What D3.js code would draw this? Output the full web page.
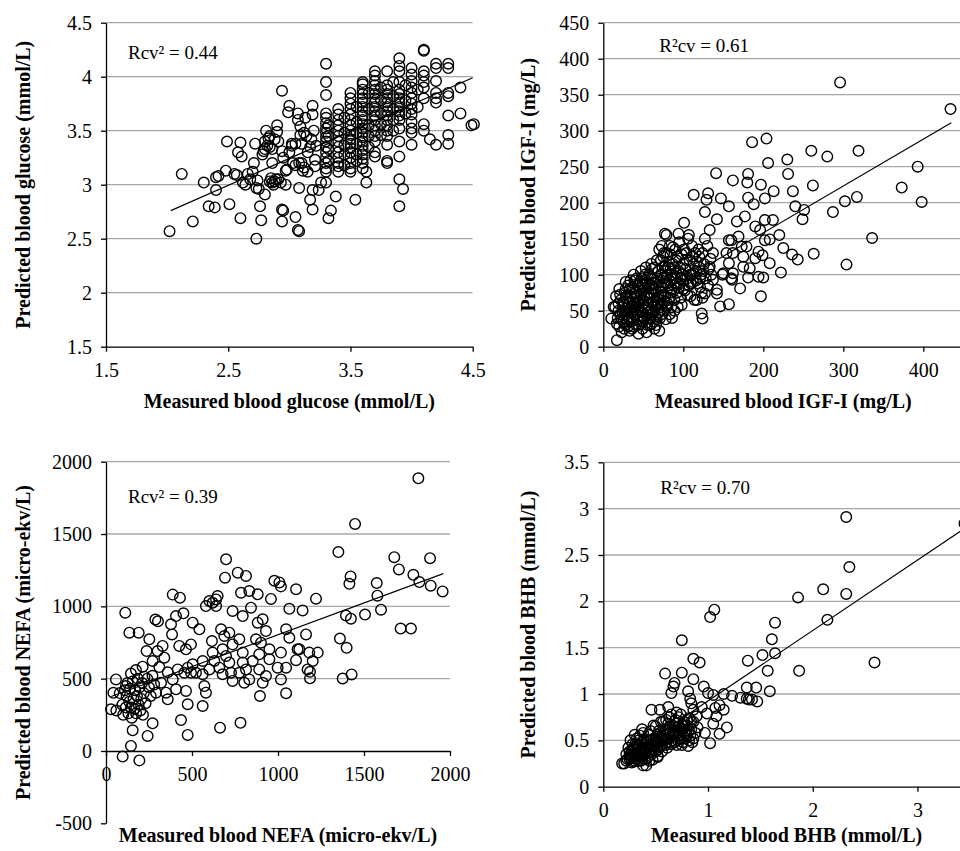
<!DOCTYPE html>
<html>
<head>
<meta charset="utf-8">
<script src="https://cdn.jsdelivr.net/npm/d3@7"></script>
<style>
  body { margin: 0; background: #fff; }
  svg { display: block; font-family: "Liberation Serif", "Times New Roman", serif; }
  .grid line { stroke: #a8a8a8; stroke-width: 1.3; }
  .axis path, .axis line { stroke: #000; stroke-width: 1.3; }
  .axis text { font-family: "Liberation Serif", "Times New Roman", serif; font-size: 20px; fill: #000; }
  .dot { fill: none; stroke: #000; stroke-width: 1.4; }
  .fit-line { fill: none; stroke: #000; stroke-width: 1.2; }
  .axis-title { font-size: 20px; font-weight: bold; fill: #000; }
  .note { font-size: 19px; fill: #000; }
</style>
</head>
<body>
<svg id="chart"></svg>
<script>
// ---- glucose (mmol/L): [measured, predicted]
const glucosePoints = [
  [2.02,2.57],[2.12,3.10],[2.21,2.66],[2.30,3.02],[2.34,2.80],[2.39,2.79],[2.40,2.95],[2.40,3.07],[2.42,3.08],[2.48,3.13],
  [2.49,3.40],[2.51,2.82],[2.57,3.09],[2.58,3.30],[2.60,2.69],[2.60,3.39],[2.61,3.26],[2.62,3.02],[2.66,3.10],[2.71,3.20],
  [2.72,3.38],[2.73,2.50],[2.73,2.97],[2.74,3.04],[2.76,2.80],[2.77,2.67],[2.80,2.91],[2.79,3.31],[2.81,3.50],[2.83,3.43],
  [2.84,3.35],[2.85,3.06],[2.86,3.20],[2.88,3.03],[2.90,3.49],[2.90,3.55],[2.91,3.40],[2.93,3.02],[2.94,3.87],[2.94,3.31],
  [2.94,2.77],[2.94,2.66],[2.95,2.76],[2.97,3.00],[2.98,3.14],[3.00,3.73],[2.99,3.67],[3.02,3.38],[3.03,3.20],[3.05,3.38],
  [3.05,2.70],[3.07,2.58],[3.08,2.57],[3.08,2.97],[3.07,3.66],[3.07,3.60],[3.09,3.54],[3.09,3.46],[3.10,3.38],[3.10,3.20],
  [3.11,3.13],[3.13,3.62],[3.17,3.35],[3.17,2.86],[3.19,2.95],[3.19,2.77],[3.19,3.73],[3.19,3.65],[3.21,3.23],[3.21,3.17],
  [3.24,2.95],[3.26,3.02],[2.80,3.40],[2.82,3.36],[2.84,3.45],[2.86,3.33],[2.88,3.42],[2.80,3.33],[2.78,3.28],[2.84,3.03],
  [2.86,3.02],[2.89,3.05],[2.87,3.00],[2.91,3.05],[2.68,3.05],[2.70,3.12],[2.55,3.10],[2.64,3.00],[2.75,2.96],[2.95,3.25],
  [3.00,3.30],[3.02,3.36],[2.97,3.13],[3.12,3.48],[3.14,3.45],[3.15,3.30],[3.18,3.42],[3.20,3.50],[3.22,3.36],[3.05,3.18],
  [3.08,3.20],[3.12,3.16],[3.15,3.12],
  [3.3,4.12],[3.3,3.95],[3.3,3.83],[3.3,3.66],[3.3,3.62],[3.3,3.57],[3.3,3.52],[3.3,3.48],[3.3,3.44],[3.3,3.40],
  [3.3,3.35],[3.3,3.30],[3.3,3.25],[3.3,3.20],[3.3,3.15],[3.3,3.12],[3.3,3.02],[3.32,2.69],[3.32,3.55],[3.32,3.45],
  [3.32,3.33],[3.32,3.22],
  [3.4,3.70],[3.4,3.65],[3.4,3.60],[3.4,3.55],[3.4,3.50],[3.4,3.45],[3.4,3.40],[3.4,3.35],[3.4,3.30],[3.4,3.25],
  [3.4,3.20],[3.4,3.17],[3.4,3.12],[3.38,2.89],[3.34,2.76],[3.45,3.62],[3.45,3.48],[3.45,3.36],[3.45,3.28],[3.45,3.18],
  [3.5,3.85],[3.5,3.80],[3.5,3.75],[3.5,3.70],[3.5,3.65],[3.5,3.60],[3.5,3.55],[3.5,3.50],[3.5,3.46],[3.5,3.42],
  [3.5,3.38],[3.5,3.34],[3.5,3.30],[3.5,3.25],[3.5,3.20],[3.5,3.15],[3.5,3.12],[3.54,2.86],
  [3.55,3.72],[3.55,3.58],[3.55,3.48],[3.55,3.38],[3.55,3.28],[3.55,3.22],
  [3.6,3.95],[3.6,3.93],[3.6,3.88],[3.6,3.84],[3.6,3.80],[3.6,3.76],[3.6,3.72],[3.6,3.68],[3.6,3.64],[3.6,3.60],
  [3.6,3.56],[3.6,3.52],[3.6,3.48],[3.6,3.44],[3.6,3.40],[3.6,3.36],[3.6,3.32],[3.6,3.28],[3.6,3.24],[3.6,3.20],
  [3.6,3.15],[3.63,3.02],[3.63,3.12],
  [3.65,3.85],[3.65,3.70],[3.65,3.55],[3.65,3.45],[3.65,3.35],
  [3.7,4.05],[3.7,4.01],[3.7,3.96],[3.7,3.92],[3.7,3.88],[3.7,3.84],[3.7,3.80],[3.7,3.76],[3.7,3.72],[3.7,3.68],
  [3.7,3.64],[3.7,3.60],[3.7,3.55],[3.7,3.50],[3.7,3.45],[3.7,3.40],[3.7,3.30],[3.7,3.26],
  [3.75,3.90],[3.75,3.78],[3.75,3.66],[3.75,3.56],[3.75,3.46],
  [3.8,4.05],[3.8,3.92],[3.8,3.88],[3.8,3.84],[3.8,3.80],[3.8,3.76],[3.8,3.72],[3.8,3.68],[3.8,3.64],[3.8,3.60],
  [3.8,3.55],[3.8,3.50],[3.8,3.45],[3.8,3.37],[3.8,3.22],[3.8,3.20],
  [3.85,3.95],[3.85,3.82],[3.85,3.70],[3.85,3.60],[3.85,3.50],
  [3.9,4.17],[3.9,4.10],[3.9,4.05],[3.9,3.95],[3.9,3.88],[3.9,3.84],[3.9,3.80],[3.9,3.76],[3.9,3.72],[3.9,3.68],
  [3.9,3.64],[3.9,3.60],[3.9,3.52],[3.9,3.40],[3.9,3.26],[3.9,3.05],[3.9,2.80],[3.93,2.96],
  [3.95,3.92],[3.95,3.78],[3.95,3.66],
  [4.0,4.08],[4.0,4.02],[4.0,3.96],[4.0,3.90],[4.0,3.85],[4.0,3.80],[4.0,3.75],[4.0,3.70],[4.0,3.65],[4.0,3.58],
  [4.0,3.52],[4.0,3.48],[4.0,3.37],[4.05,3.88],[4.05,3.72],
  [4.1,4.25],[4.1,4.24],[4.1,4.05],[4.1,4.01],[4.1,3.95],[4.1,3.90],[4.1,3.80],[4.1,3.56],[4.1,3.50],[4.15,3.42],
  [4.2,4.12],[4.2,4.08],[4.2,3.96],[4.2,3.85],[4.2,3.80],[4.2,3.76],[4.2,3.37],
  [4.3,4.12],[4.3,4.08],[4.3,3.85],[4.3,3.82],[4.3,3.64],[4.3,3.46],[4.3,3.38],
  [4.4,3.90],[4.4,3.66],[4.49,3.55],[4.51,3.56]
];
const glucoseFit = [[2.03, 2.76], [4.5, 3.99]];
const glucoseTicksX = [1.5, 2.5, 3.5, 4.5];
const glucoseTicksY = [1.5, 2, 2.5, 3, 3.5, 4, 4.5];

// ---- IGF-I (mg/L): [measured, predicted]
const igfPoints = [
  [296,367],[434,330],[204,289],[186,284],[260,272],[319,272],[280,264],[230,260],[393,250],[206,255],
  [141,241],[231,240],[181,240],[162,231],[180,228],[197,225],[262,224],[213,216],[237,216],[147,206],
  [113,211],[131,213],[129,204],[181,207],[202,206],[302,202],[317,208],[373,221],[398,201],[240,195],
  [251,190],[287,187],[157,195],[188,198],[127,187],[249,177],[212,176],[167,174],[142,177],[202,176],
  [133,162],[101,172],[77,157],[94,157],[107,155],[336,151],[220,155],[208,149],[225,137],[263,129],
  [236,128],[243,121],[304,114],[208,116],[222,103],[197,70],[171,81],[146,56],[157,59],[124,39],
  [123,46],[17,9],[10,39],[13,55],
  [194,97],[200,96],[181,96],[183,109],[194,132],[190,123],[199,127],[175,125],[173,139],[162,130],
  [157,148],[149,100],[161,93],[157,116],[142,79],[137,130],
  [177,181],[190,167],[196,162],[202,148],[160,95],[162,102],[175,111],[179,139],[169,153],[160,148],
  [154,130],[150,102],[142,74],[137,93],[133,111],[127,74],[121,83],[117,65],
  [15,55],[18,40],[20,28],[22,65],[24,48],[16,70],[25,35],[20,80],[23,20],[26,58],[21,45],[19,60],
  [27,75],[28,30],[29,50],[30,62],[31,85],[32,40],[33,22],[34,70],[35,55],[28,90],[30,45],[33,80],[35,35],[26,25],
  [36,48],[37,65],[38,28],[39,92],[40,55],[41,75],[42,38],[43,85],[44,18],[45,62],[38,100],[40,45],[42,70],[44,30],
  [36,82],[41,58],
  [46,50],[47,72],[48,95],[49,25],[50,60],[51,40],[52,82],[53,110],[54,20],[55,68],[46,88],[48,35],[50,78],[52,55],
  [54,45],[47,105],[53,92],[49,65],
  [56,58],[57,100],[58,30],[59,75],[60,115],[61,45],[62,88],[63,62],[64,25],[65,80],[56,40],[58,68],[60,52],[62,95],
  [64,72],[57,85],[61,108],[63,35],
  [66,55],[67,120],[68,90],[69,70],[70,135],[71,40],[72,100],[73,60],[74,82],[75,125],[66,30],[68,48],[70,22],[72,75],
  [74,110],[67,95],[71,65],[73,140],[75,50],
  [76,95],[77,70],[78,105],[79,155],[80,60],[81,85],[82,118],[83,45],[84,75],[85,100],[76,130],[78,38],[80,88],[82,65],
  [84,128],[77,112],[83,92],[85,55],
  [86,80],[87,138],[88,110],[89,65],[90,95],[91,120],[92,75],[93,55],[94,105],[95,145],[96,88],[97,68],[98,128],[99,100],
  [100,115],[86,40],[90,135],[94,82],[98,58],[100,92],
  [102,78],[103,108],[104,130],[105,95],[106,150],[107,85],[108,120],[109,70],[110,100],[111,140],[112,90],[113,115],
  [114,65],[115,130],
  [116,105],[118,88],[120,125],[122,100],[124,68],[126,115],[128,95],[130,140],[132,108],[134,122],[119,135],[123,75],
  [127,150],[131,85],[135,100],
  [17,32],[19,50],[21,72],[23,38],[25,62],[27,45],[29,68],[31,28],[33,52],[35,75],[37,40],[39,60],[41,30],[43,50],
  [45,78],[47,42],[49,88],[24,55],[28,80],[32,60],[36,25],[40,68],[44,55],[48,48],[30,38],[34,92],[38,45],[42,95],
  [46,65],[50,35],
  [51,70],[53,50],[55,88],[57,48],[59,95],[61,60],[63,80],[65,42],[67,68],[69,105],[71,85],[73,45],[75,72],[77,90],
  [79,55],[81,110],[83,68],[85,80],[87,95],[89,50],[52,100],[56,75],[60,85],[64,110],[68,58],[72,120],[76,62],[80,100],
  [84,108],[88,85],[55,30],[59,40],[63,48],[67,38],[71,55],[75,95],[79,130],[83,140],[87,115],[91,102],
  [92,88],[96,110],[100,80],[104,120],[108,100],[112,125],[116,92],[120,110],[124,130],[93,125],[97,95],[101,135],
  [105,72],[109,88],[113,102],[117,118],[121,95],[125,105]
];
const igfFit = [[10, 34.6], [435, 311]];
const igfTicksX = [0, 100, 200, 300, 400];
const igfTicksY = [0, 50, 100, 150, 200, 250, 300, 350, 400, 450];

// ---- NEFA (micro-ekv/L): [measured, predicted]
const nefaPoints = [
  [112,956],[97,-39],[194,-65],[145,35],[242,104],[271,191],[475,111],[436,214],[663,161],[155,143],
  [58,495],[29,288],[116,449],[136,818],[190,818],[145,535],[174,560],[213,583],[223,514],[252,772],
  [236,691],[271,622],[287,909],[302,897],[300,691],[329,726],[339,645],[310,580],[320,472],[291,403],
  [359,544],[349,403],[359,357],[388,1081],[430,1060],[378,876],[384,806],[407,933],[450,952],[426,726],
  [465,703],[494,737],[504,887],[543,841],[417,564],[455,541],[475,576],[388,495],[407,426],[465,415],
  [475,323],[494,541],[523,541],[562,530],[504,599],[562,622],[601,564],[572,449],[581,403],[562,311],
  [581,1002],[601,1037],[620,1025],[640,1048],[649,1071],[640,1002],[616,760],[669,841],[688,795],[630,622],
  [659,576],[620,680],[678,703],[678,530],[698,657],[698,1325],[692,1198],[717,818],[736,737],[717,611],
  [727,541],[736,484],[766,1233],[814,1210],[785,1094],[833,1106],[736,968],[795,933],[775,772],[795,680],
  [795,611],[775,541],[814,564],[833,495],[804,472],[882,1083],[843,991],[882,887],[911,910],[930,829],
  [872,772],[901,749],[891,668],[853,622],[891,564],[950,703],[950,634],[930,518],[911,472],[895,380],
  [959,1051],[979,1177],[1008,1165],[1017,1138],[1066,983],[1143,972],[1047,841],[1066,783],[1017,680],[998,576],
  [1047,576],[1017,495],[1047,399],[1105,1118],[1114,703],[1124,703],[1163,806],[1182,680],[1172,564],[1186,502],
  [1202,622],[1231,680],[1221,1053],[1105,628],[1186,547],[782,195],[43,402],
  [1816,1885],[1448,1570],[1351,1375],[1676,1340],[1884,1333],[1703,1255],[1787,1218],[1422,1207],[1415,1156],[1574,1161],
  [1822,1168],[1888,1143],[1957,1103],[1578,1074],[1599,977],[1506,943],[1395,936],[1424,915],[1713,846],[1773,846],
  [1360,777],[1399,713],[1376,501],[1428,529],
  [60,280],[80,400],[95,320],[100,250],[110,420],[115,300],[120,380],[125,470],[130,260],[135,340],
  [140,430],[145,300],[150,230],[155,480],[160,360],[165,290],[170,420],[175,260],[180,380],[185,500],
  [190,320],[195,440],[200,280],[205,360],[210,470],[215,250],[220,400],[230,330],[240,500],[250,440],
  [260,380],[270,520],[280,460]
];
const nefaFit = [[30, 377], [1961, 1226]];
const nefaTicksX = [0, 500, 1000, 1500, 2000];
const nefaTicksY = [-500, 0, 500, 1000, 1500, 2000];

// ---- BHB (mmol/L): [measured, predicted]
const bhbPoints = [
  [2.32,2.91],[2.35,2.37],[2.10,2.13],[1.86,2.04],[2.32,2.08],[2.14,1.80],[1.06,1.91],[1.02,1.83],[1.64,1.77],[0.75,1.58],
  [1.61,1.59],[1.64,1.44],[1.52,1.42],[1.38,1.36],[0.86,1.38],[0.92,1.34],[2.59,1.34],[1.87,1.25],[1.57,1.25],[3.45,2.84],
  [0.59,1.22],[0.75,1.23],[0.86,1.16],[0.96,1.08],[1.37,1.07],[1.46,1.07],[1.59,1.03],[0.67,1.08],[0.68,1.12],[0.65,1.01],
  [0.81,1.03],[1.00,1.01],[1.05,0.99],[1.15,1.00],[1.23,0.98],[1.31,0.96],[1.39,0.94],[1.47,0.92],[1.42,0.94],[1.11,0.88],
  [1.15,0.83],[1.08,0.76],[1.05,0.68],[1.18,0.64],[1.11,0.57],[1.02,0.47],[0.97,0.58],[0.86,0.83],[0.94,0.86],[0.99,0.79],
  [0.46,0.83],[0.54,0.83],[0.62,0.86],[0.52,0.32],[0.38,0.23],[0.18,0.25],
  [0.83,0.95],[0.84,0.90],[1.37,0.95],[1.07,0.85],[0.89,0.76],
  [0.20,0.25],[0.22,0.35],[0.24,0.42],[0.25,0.30],[0.27,0.38],[0.28,0.46],[0.29,0.27],[0.30,0.33],[0.31,0.40],[0.32,0.52],
  [0.33,0.30],[0.34,0.36],[0.35,0.44],[0.36,0.28],[0.37,0.62],[0.38,0.34],[0.39,0.40],[0.40,0.48],[0.41,0.23],[0.42,0.31],
  [0.43,0.56],[0.44,0.37],[0.45,0.43],[0.46,0.50],[0.47,0.29],[0.48,0.66],[0.49,0.40],[0.50,0.46],[0.51,0.54],[0.52,0.33],
  [0.53,0.60],[0.54,0.44],[0.55,0.50],[0.56,0.38],[0.57,0.70],[0.58,0.56],[0.59,0.47],[0.60,0.62],[0.61,0.42],[0.62,0.52],
  [0.63,0.75],[0.64,0.58],[0.65,0.46],[0.66,0.66],[0.67,0.54],[0.68,0.48],[0.69,0.72],[0.70,0.60],[0.71,0.50],[0.72,0.65],
  [0.73,0.55],[0.74,0.78],[0.75,0.45],[0.76,0.62],[0.77,0.70],[0.78,0.52],[0.79,0.58],[0.80,0.66],[0.81,0.44],[0.82,0.74],
  [0.83,0.55],[0.84,0.62],[0.85,0.48],[0.86,0.70],[0.88,0.58],[0.90,0.64],
  [0.22,0.28],[0.26,0.50],[0.30,0.56],[0.33,0.45],[0.35,0.32],[0.38,0.58],[0.40,0.30],[0.42,0.42],[0.44,0.28],[0.46,0.35],
  [0.48,0.52],[0.50,0.38],[0.52,0.48],[0.54,0.58],[0.56,0.45],[0.58,0.62],[0.60,0.52],[0.62,0.68],[0.64,0.48],[0.66,0.56],
  [0.68,0.64],[0.70,0.45],[0.72,0.75],[0.74,0.62],[0.76,0.48],[0.78,0.66],[0.80,0.55],[0.82,0.60],[0.84,0.70],[0.86,0.52],
  [0.28,0.32],[0.32,0.36],[0.36,0.40],[0.34,0.28],[0.29,0.42],[0.25,0.38],[0.27,0.26],[0.31,0.30],[0.37,0.34],[0.41,0.38],
  [0.23,0.30],[0.26,0.34],[0.28,0.40],[0.30,0.28],[0.32,0.44],[0.34,0.50],[0.36,0.35],[0.38,0.42],[0.40,0.36],[0.42,0.50],
  [0.44,0.45],[0.46,0.40],[0.48,0.44],[0.50,0.52],[0.52,0.40],[0.54,0.52],[0.56,0.55],[0.58,0.50],[0.60,0.45],[0.62,0.58],
  [0.64,0.65],[0.66,0.50],[0.68,0.58],[0.70,0.68],[0.72,0.56],[0.74,0.52],[0.76,0.66],[0.78,0.60],[0.80,0.72],[0.82,0.50],
  [0.45,0.60],[0.50,0.65],[0.55,0.70],[0.60,0.72],[0.65,0.78],[0.70,0.80],[0.39,0.50],[0.35,0.55],[0.31,0.47],[0.27,0.33]
];
const bhbFit = [[0.2, 0.317], [3.45, 2.787]];
const bhbTicksX = [0, 1, 2, 3];
const bhbTicksY = [0, 0.5, 1, 1.5, 2, 2.5, 3, 3.5];

class ScatterPanel {
  constructor(_config, _data) {
    this.config = {
      parentElement: _config.parentElement,
      left: _config.left,
      top: _config.top,
      width: _config.width,
      height: _config.height,
      xDomain: _config.xDomain,
      yDomain: _config.yDomain,
      xTicks: _config.xTicks,
      yTicks: _config.yTicks,
      xAxisAt: _config.xAxisAt,
      xTitle: _config.xTitle,
      yTitle: _config.yTitle,
      xTitleY: _config.xTitleY,
      yTitleX: _config.yTitleX,
      note: _config.note,
      notePos: _config.notePos,
      radius: 5.3
    };
    this.data = _data;
    this.initVis();
  }

  initVis() {
    let vis = this;
    const cfg = vis.config;

    vis.xScale = d3.scaleLinear().domain(cfg.xDomain).range([0, cfg.width]);
    vis.yScale = d3.scaleLinear().domain(cfg.yDomain).range([cfg.height, 0]);

    vis.xAxis = d3.axisBottom(vis.xScale)
      .tickValues(cfg.xTicks)
      .tickFormat(d => String(d))
      .tickSize(5)
      .tickPadding(11)
      .tickSizeOuter(0);

    vis.yAxis = d3.axisLeft(vis.yScale)
      .tickValues(cfg.yTicks)
      .tickFormat(d => String(d))
      .tickSize(5)
      .tickPadding(9)
      .tickSizeOuter(0);

    vis.chart = d3.select(cfg.parentElement).append('g')
      .attr('transform', `translate(${cfg.left},${cfg.top})`);

    vis.gridG = vis.chart.append('g').attr('class', 'grid');
    vis.xAxisG = vis.chart.append('g')
      .attr('class', 'axis x-axis')
      .attr('transform', `translate(0,${vis.yScale(cfg.xAxisAt)})`);
    vis.yAxisG = vis.chart.append('g').attr('class', 'axis y-axis');
    vis.dotsG = vis.chart.append('g');
    vis.fitPath = vis.chart.append('path').attr('class', 'fit-line');

    vis.renderVis();
  }

  renderVis() {
    let vis = this;
    const cfg = vis.config;

    // horizontal gridlines above the x axis
    vis.gridG.selectAll('line')
      .data(cfg.yTicks.filter(t => t > cfg.xAxisAt))
      .join('line')
      .attr('x1', 0)
      .attr('x2', cfg.width)
      .attr('y1', d => vis.yScale(d))
      .attr('y2', d => vis.yScale(d));

    vis.xAxisG.call(vis.xAxis);
    vis.yAxisG.call(vis.yAxis);

    vis.dotsG.selectAll('.dot')
      .data(vis.data.points)
      .join('circle')
      .attr('class', 'dot')
      .attr('r', cfg.radius)
      .attr('cx', d => vis.xScale(d[0]))
      .attr('cy', d => vis.yScale(d[1]));

    const line = d3.line()
      .x(d => vis.xScale(d[0]))
      .y(d => vis.yScale(d[1]));
    vis.fitPath.datum(vis.data.fit).attr('d', line);

    // axis titles and the R² note
    const svg = d3.select(cfg.parentElement);
    svg.append('text')
      .attr('class', 'axis-title')
      .attr('text-anchor', 'middle')
      .attr('x', cfg.left + cfg.width / 2)
      .attr('y', cfg.xTitleY)
      .text(cfg.xTitle);

    svg.append('text')
      .attr('class', 'axis-title')
      .attr('text-anchor', 'middle')
      .attr('transform', `translate(${cfg.yTitleX},${cfg.top + cfg.height / 2}) rotate(-90)`)
      .text(cfg.yTitle);

    vis.chart.append('text')
      .attr('class', 'note')
      .attr('x', cfg.notePos[0])
      .attr('y', cfg.notePos[1])
      .text(cfg.note);
  }
}

const svg = d3.select('#chart')
  .attr('width', 960)
  .attr('height', 851);

new ScatterPanel({
  parentElement: '#chart',
  left: 106, top: 22.7, width: 366.7, height: 324,
  xDomain: [1.5, 4.5], yDomain: [1.5, 4.5],
  xTicks: glucoseTicksX, yTicks: glucoseTicksY, xAxisAt: 1.5,
  xTitle: 'Measured blood glucose (mmol/L)',
  yTitle: 'Predicted blood glucose (mmol/L)',
  xTitleY: 408, yTitleX: 30,
  note: 'Rcv² = 0.44', notePos: [22, 36]
}, { points: glucosePoints, fit: glucoseFit });

new ScatterPanel({
  parentElement: '#chart',
  left: 603.3, top: 22.7, width: 360, height: 324,
  xDomain: [0, 450], yDomain: [0, 450],
  xTicks: igfTicksX, yTicks: igfTicksY, xAxisAt: 0,
  xTitle: 'Measured blood IGF-I (mg/L)',
  yTitle: 'Predicted blood IGF-I (mg/L)',
  xTitleY: 408, yTitleX: 535,
  note: 'R²cv = 0.61', notePos: [56, 29]
}, { points: igfPoints, fit: igfFit });

new ScatterPanel({
  parentElement: '#chart',
  left: 106, top: 461.7, width: 344, height: 361.6,
  xDomain: [0, 2000], yDomain: [-500, 2000],
  xTicks: nefaTicksX, yTicks: nefaTicksY, xAxisAt: 0,
  xTitle: 'Measured blood NEFA (micro-ekv/L)',
  yTitle: 'Predicted blood NEFA (micro-ekv/L)',
  xTitleY: 842, yTitleX: 30,
  note: 'Rcv² = 0.39', notePos: [22, 41.6]
}, { points: nefaPoints, fit: nefaFit });

new ScatterPanel({
  parentElement: '#chart',
  left: 603.3, top: 462.3, width: 366.5, height: 324.4,
  xDomain: [0, 3.5], yDomain: [0, 3.5],
  xTicks: bhbTicksX, yTicks: bhbTicksY, xAxisAt: 0,
  xTitle: 'Measured blood BHB (mmol/L)',
  yTitle: 'Predicted blood BHB (mmol/L)',
  xTitleY: 842, yTitleX: 535,
  note: 'R²cv = 0.70', notePos: [57, 31.7]
}, { points: bhbPoints, fit: bhbFit });
</script>
</body>
</html>
